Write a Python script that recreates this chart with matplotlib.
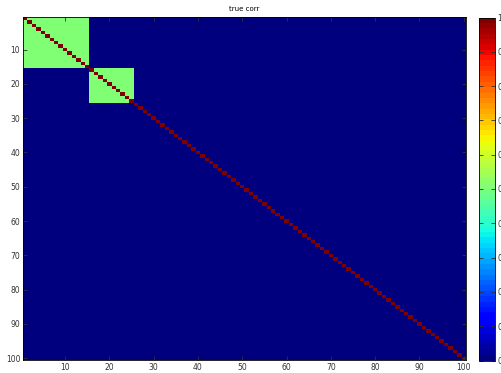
import numpy as np
import matplotlib
matplotlib.use('Agg')
from matplotlib import pyplot as plt

# block structure of the true correlation matrix
n = 100
blocks = [(1, 15), (16, 25)]   # 1-based inclusive index ranges
block_corr = [0.5, 0.5]
diag_value = 1.0

xticks = [10, 20, 30, 40, 50, 60, 70, 80, 90, 100]
yticks = [10, 20, 30, 40, 50, 60, 70, 80, 90, 100]
cticks = [0, 0.1, 0.2, 0.3, 0.4, 0.5, 0.6, 0.7, 0.8, 0.9, 1]

C = np.zeros((n, n))
for (a, b), r in zip(blocks, block_corr):
    C[a - 1:b, a - 1:b] = r
np.fill_diagonal(C, diag_value)

fig = plt.figure(figsize=(5.01, 3.73), dpi=100)
ax = fig.add_axes([23 / 501, 13 / 373, 443 / 501, 343 / 373])
cax = fig.add_axes([478.5 / 501, 12.5 / 373, 16 / 501, 343 / 373])

im = ax.imshow(C, cmap=plt.get_cmap('jet', 64), vmin=0, vmax=1,
               extent=(0.5, n + 0.5, n + 0.5, 0.5), aspect='auto',
               interpolation='nearest')
ax.set_xticks(xticks)
ax.set_yticks(yticks)
ax.tick_params(direction='in', length=3, width=0.6, labelsize=5.5,
               top=True, right=True, pad=2, colors='#333333')
for s in ax.spines.values():
    s.set_linewidth(0.6)
ax.set_title('true corr', fontsize=5, pad=4)

cb = fig.colorbar(im, cax=cax, ticks=cticks)
cb.ax.tick_params(direction='in', length=3, width=0.6, labelsize=5.5,
                  left=True, pad=2, colors='#333333')
cb.ax.set_yticklabels([f'{t:g}' for t in cticks])
cb.outline.set_linewidth(0.6)

fig.savefig('out.png', dpi=100)
